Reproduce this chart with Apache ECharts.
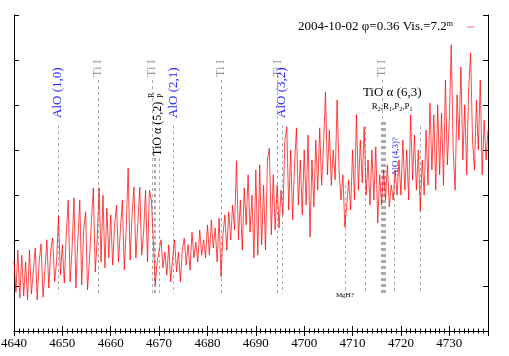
<!DOCTYPE html>
<html><head><meta charset="utf-8">
<script src="https://cdn.jsdelivr.net/npm/echarts@6/dist/echarts.min.js"></script>
<style>html,body{margin:0;padding:0;background:#fff}#c{width:509px;height:356px}</style>
</head><body><div id="c"></div><script>
// ---- data ----
const lambdaStart = 4640.0;
const lambdaStep = 0.4;
const flux = [
 1.57,0.86,1.79,0.73,1.68,0.78,1.53,0.69,1.79,0.82,1.35,1.84,0.69,1.53,1.93,0.75,1.35,2.02,0.95,1.79,2.06,1.09,1.53,2.55,1.24,
 1.91,1.06,2.13,2.90,1.09,1.79,2.95,0.95,2.02,2.90,1.02,2.24,2.64,0.91,1.57,2.41,3.17,1.31,2.02,3.17,1.53,3.01,1.40,2.72,1.62,
 2.57,1.46,2.35,2.79,1.53,2.24,2.90,1.35,2.28,3.61,1.57,2.57,3.19,1.62,2.35,3.19,1.68,2.19,3.12,1.53,3.12,2.90,2.02,1.02,1.53,
 1.53,2.02,1.40,1.75,1.24,1.91,1.09,1.62,2.02,1.31,1.75,1.09,1.79,2.06,1.46,1.91,1.35,2.19,1.62,1.97,1.53,2.24,1.68,2.02,1.62,
 2.35,1.68,2.46,1.84,2.28,1.53,2.50,1.20,2.13,2.57,1.79,2.64,2.02,2.79,2.24,3.77,2.02,2.90,1.79,3.17,2.35,3.46,2.19,3.01,1.62,
 3.57,1.68,3.68,1.91,3.23,1.79,3.79,4.05,2.13,3.46,2.24,3.23,2.28,3.12,2.57,4.23,4.52,2.68,4.01,2.46,3.68,4.50,2.79,3.79,2.57,
 4.01,2.79,4.34,2.08,3.79,2.75,4.23,3.12,4.50,3.23,4.12,5.29,3.46,4.45,3.23,4.01,3.35,5.12,3.57,2.90,3.46,2.30,2.79,3.35,2.68,
 4.01,2.90,4.79,3.12,4.23,3.28,4.52,3.01,3.79,2.79,4.01,2.90,4.08,2.39,3.46,2.79,3.57,2.90,3.68,2.75,3.23,2.90,3.57,3.01,3.79,
 3.01,4.23,3.12,4.01,2.90,4.79,3.35,4.34,3.12,4.01,2.66,3.79,3.01,4.45,3.23,5.05,3.57,4.79,3.12,5.01,3.46,4.83,3.23,5.56,3.68,
 4.67,6.34,4.01,3.12,5.23,4.23,5.85,3.79,5.01,3.46,5.34,6.16,4.23,3.57,5.12,4.01,5.56,3.46,4.67,3.79,4.45
];
const xMin = 4640, xMax = 4738, xInterval = 10;
const yMin = 0, yMax = 7, yInterval = 1;

const tiLines = [4657.4, 4668.6, 4682.8, 4694.5, 4716.1];
const aloLines = [4649.1, 4672.9, 4695.4];
const aloNames = ['AlO (1,0)', 'AlO (2,1)', 'AlO (3,2)'];
const tio52Lines = [4668.9, 4669.2, 4670.0];
const tio63Lines = [4715.9, 4716.3, 4716.5, 4716.8];
const otherLines = [4708.4, 4712.6, 4718.6, 4724.0];
const otherTops = [3.23, 4.54, 3.35, 4.54];
const tiTop = 5.56, aloTop = 4.56, tio52Top = 3.83, tio63Top = 4.63, lineBottom = 0.82;
const legendText = '2004-10-02 φ=0.36 Vis.=7.2';

// ---- build ----
const serie = flux.map((v, i) => [+(lambdaStart + i * lambdaStep).toFixed(2), v]);
const ml = [];
tiLines.forEach(x => ml.push([{coord:[x, tiTop]}, {coord:[x, lineBottom]}]));
aloLines.forEach(x => ml.push([{coord:[x, aloTop]}, {coord:[x, lineBottom]}]));
tio52Lines.forEach(x => ml.push([{coord:[x, tio52Top]}, {coord:[x, lineBottom]}]));
tio63Lines.forEach(x => ml.push([{coord:[x, tio63Top]}, {coord:[x, lineBottom]}]));
otherLines.forEach((x, i) => ml.push([{coord:[x, otherTops[i]]}, {coord:[x, lineBottom]}]));

const FONT = 'Liberation Serif';
const chart = echarts.init(document.getElementById('c'));
const axisCommon = {
  axisLine: {show: true, lineStyle: {color: '#000', width: 1}},
  axisTick: {show: true, inside: true, length: 5, lineStyle: {color: '#000'}},
  splitLine: {show: false}
};
chart.setOption({
  animation: false,
  backgroundColor: '#fff',
  grid: {left: 14, right: 21, top: 15, bottom: 25, containLabel: false, outerBoundsMode: 'none'},
  xAxis: [
    Object.assign({type: 'value', min: xMin, max: xMax, interval: xInterval, position: 'bottom',
      axisLabel: {color: '#000', fontFamily: FONT, fontSize: 13, margin: 6, showMaxLabel: false, formatter: v => String(v)},
      minorTick: {show: true, splitNumber: 10, length: 2.5, lineStyle: {color: '#000'}}}, axisCommon),
    Object.assign({type: 'value', min: xMin, max: xMax, interval: xInterval, position: 'top',
      axisLabel: {show: false},
      minorTick: {show: true, splitNumber: 10, length: 2.5, lineStyle: {color: '#000'}}}, axisCommon)
  ],
  yAxis: [
    Object.assign({type: 'value', min: yMin, max: yMax, interval: yInterval, position: 'left', axisLabel: {show: false}}, axisCommon),
    Object.assign({type: 'value', min: yMin, max: yMax, interval: yInterval, position: 'right', axisLabel: {show: false}}, axisCommon)
  ],
  series: [{
    type: 'line', name: legendText, data: serie, showSymbol: false, symbol: 'none',
    lineStyle: {color: 'rgba(255,0,0,0.72)', width: 1}, z: 3,
    markLine: {silent: true, symbol: ['none', 'none'], label: {show: false},
      lineStyle: {type: [3, 3], color: '#aaaaaa', width: 1}, data: ml, z: 2}
  }]
});

// ---- labels ----
function px(x, y) { return chart.convertToPixel({xAxisIndex: 0, yAxisIndex: 0}, [x, y]); }
const g = [];
const R90 = Math.PI / 2;
function vtext(x, yBottom, text, color, size) {
  const p = px(x, 0);
  g.push({type: 'text', x: p[0], y: yBottom, rotation: R90,
    style: {text: text, fill: color, font: size + 'px "' + FONT + '"', textAlign: 'left', textVerticalAlign: 'middle'}});
}
tiLines.forEach(x => vtext(x, 77, 'Ti I', '#999999', 12));
aloLines.forEach((x, i) => vtext(x, 118, aloNames[i], '#2222ff', 13));
vtext(4669.7, 156, 'TiO α (5,2)', '#000', 12);
vtext(4668.5, 98, 'R', '#000', 8);
vtext(4670.4, 98, 'P', '#000', 8);
vtext(4718.85, 176, 'AlO (4,3)?', '#2222ff', 9);
const c63 = px(4718.2, 0);
g.push({type: 'text', x: c63[0], y: 93, style: {text: 'TiO α (6,3)', fill: '#000', font: '13px "' + FONT + '"', textAlign: 'center', textVerticalAlign: 'middle'}});
g.push({type: 'text', x: c63[0], y: 107, style: {
  text: 'R{s|2},R{s|1},P{s|2},P{s|1}', fill: '#000', font: '9px "' + FONT + '"', textAlign: 'center', textVerticalAlign: 'middle',
  rich: {s: {fontSize: 6, fontFamily: FONT, verticalAlign: 'bottom', padding: [4, 0, 0, 0]}}}});
const cm = px(4708.4, 0);
g.push({type: 'text', x: cm[0], y: 295, style: {text: 'MgH?', fill: '#000', font: '7px "' + FONT + '"', textAlign: 'center', textVerticalAlign: 'middle'}});
// legend
g.push({type: 'text', x: 453, y: 27, style: {text: legendText + '{s|m}', fill: '#000', font: '13px "' + FONT + '"', textAlign: 'right', textVerticalAlign: 'middle',
  rich: {s: {fontSize: 8, fontFamily: FONT, verticalAlign: 'top', padding: [0, 0, 6, 0]}}}});
g.push({type: 'line', shape: {x1: 467, y1: 27, x2: 474, y2: 27}, style: {stroke: 'rgba(255,0,0,0.6)', lineWidth: 1}});
chart.setOption({graphic: g});
</script></body></html>
